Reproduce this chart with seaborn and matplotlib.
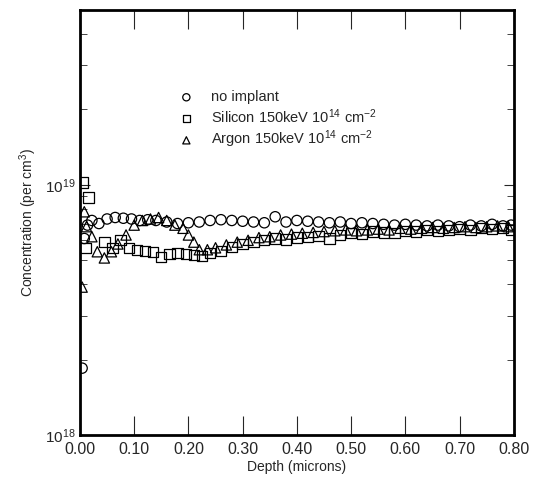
import matplotlib
matplotlib.use('Agg')
import matplotlib.pyplot as plt
import numpy as np
import pandas as pd
import seaborn as sns
from matplotlib import ticker

# depth (microns) and concentration (units of 1e18 per cm^3)
no_implant_depth = [0.004, 0.008, 0.014, 0.022, 0.035, 0.05, 0.065, 0.08, 0.095,
                    0.11, 0.125, 0.14, 0.16, 0.18, 0.20, 0.22, 0.24, 0.26, 0.28,
                    0.30, 0.32, 0.34, 0.36, 0.38, 0.40, 0.42, 0.44, 0.46, 0.48,
                    0.50, 0.52, 0.54, 0.56, 0.58, 0.60, 0.62, 0.64, 0.66, 0.68,
                    0.70, 0.72, 0.74, 0.76, 0.78, 0.795]
no_implant_conc = [1.85, 6.1, 6.9, 7.2, 7.0, 7.3, 7.4, 7.35, 7.3,
                   7.2, 7.25, 7.2, 7.1, 7.0, 7.05, 7.1, 7.2, 7.25, 7.2,
                   7.15, 7.1, 7.05, 7.45, 7.1, 7.2, 7.15, 7.1, 7.05, 7.1,
                   7.0, 7.05, 7.0, 6.95, 6.9, 6.95, 6.9, 6.85, 6.9, 6.85,
                   6.8, 6.9, 6.85, 6.95, 6.85, 6.9]

silicon_depth = [0.006, 0.010, 0.016, 0.045, 0.06, 0.075, 0.09, 0.105, 0.12,
                 0.135, 0.15, 0.165, 0.18, 0.195, 0.21, 0.225, 0.24, 0.26,
                 0.28, 0.30, 0.32, 0.34, 0.36, 0.38, 0.40, 0.42, 0.44, 0.46,
                 0.48, 0.50, 0.52, 0.54, 0.56, 0.58, 0.60, 0.62, 0.64, 0.66,
                 0.68, 0.70, 0.72, 0.74, 0.76, 0.78, 0.795]
silicon_conc = [10.2, 5.6, 8.9, 5.9, 5.6, 6.0, 5.6, 5.5, 5.45,
                5.4, 5.15, 5.3, 5.35, 5.3, 5.25, 5.2, 5.35, 5.45,
                5.65, 5.8, 5.9, 6.0, 6.1, 6.05, 6.15, 6.2, 6.25, 6.1,
                6.3, 6.4, 6.35, 6.5, 6.45, 6.4, 6.55, 6.5, 6.6, 6.55,
                6.6, 6.65, 6.6, 6.7, 6.65, 6.7, 6.6]

argon_depth = [0.004, 0.008, 0.012, 0.022, 0.032, 0.045, 0.058, 0.07, 0.085,
               0.10, 0.115, 0.13, 0.145, 0.16, 0.175, 0.19, 0.20, 0.21, 0.22,
               0.235, 0.25, 0.27, 0.29, 0.31, 0.33, 0.35, 0.37, 0.39, 0.41,
               0.43, 0.45, 0.47, 0.49, 0.51, 0.53, 0.55, 0.57, 0.59, 0.61,
               0.63, 0.65, 0.67, 0.69, 0.71, 0.73, 0.75, 0.77, 0.79]
argon_conc = [3.9, 7.8, 6.8, 6.2, 5.4, 5.1, 5.4, 5.8, 6.3,
              6.9, 7.2, 7.3, 7.4, 7.2, 6.9, 6.7, 6.3, 5.9, 5.5,
              5.5, 5.6, 5.75, 5.9, 6.0, 6.15, 6.2, 6.3, 6.35, 6.4,
              6.45, 6.5, 6.55, 6.6, 6.55, 6.6, 6.65, 6.6, 6.7, 6.65,
              6.7, 6.75, 6.7, 6.75, 6.8, 6.75, 6.8, 6.85, 6.8]

labels = ['no implant',
          'Silicon 150keV 10$^{14}$ cm$^{\u2010 2}$',
          'Argon 150keV 10$^{14}$ cm$^{\u2010 2}$']
labels = ['no implant',
          'Silicon 150keV 10$^{14}$ cm$^{-2}$',
          'Argon 150keV 10$^{14}$ cm$^{-2}$']
markers = ['o', 's', '^']

sns.set_style('ticks')
plt.rcParams['font.family'] = ['Liberation Sans', 'DejaVu Sans']
plt.rcParams['mathtext.default'] = 'regular'

fig = plt.figure(figsize=(5.33, 4.82), dpi=100)
ax = fig.add_axes([0.150, 0.0975, 0.814, 0.882])

series = [(no_implant_depth, no_implant_conc),
          (silicon_depth, silicon_conc),
          (argon_depth, argon_conc)]
for (depth, conc), label, marker in zip(series, labels, markers):
    df = pd.DataFrame({'depth': depth, 'conc': np.array(conc) * 1e18})
    sns.scatterplot(x='depth', y='conc', data=df, ax=ax, marker=marker,
                    s=55, facecolors='none', edgecolor='black', linewidth=0.9,
                    label=label)

ax.set_yscale('log')
ax.set_xlim(0, 0.8)
ax.set_ylim(1e18, 5e19)
ax.set_xticks(np.arange(0, 0.81, 0.1))
ax.xaxis.set_major_formatter(ticker.FormatStrFormatter('%.2f'))
ax.yaxis.set_minor_formatter(ticker.NullFormatter())

ax.tick_params(axis='x', which='major', direction='in', length=14, width=0.8,
               top=True, labelsize=11.5, pad=5)
ax.tick_params(axis='y', which='major', direction='in', length=7, width=0.8,
               right=True, labelsize=11)
ax.tick_params(axis='y', which='minor', direction='in', length=5, width=0.6,
               right=True)
for spine in ax.spines.values():
    spine.set_linewidth(2)
    spine.set_color('black')

ax.set_xlabel('Depth (microns)', fontsize=10, labelpad=2)
ax.set_ylabel('Concentration (per cm$^{3}$)', fontsize=10, labelpad=4)

ax.legend(loc='upper left', bbox_to_anchor=(0.215, 0.825), frameon=False,
          fontsize=10.5, handletextpad=1.2, labelspacing=0.2,
          borderaxespad=0, handlelength=1.0, markerscale=0.7)

fig.savefig('out.png', dpi=100)
